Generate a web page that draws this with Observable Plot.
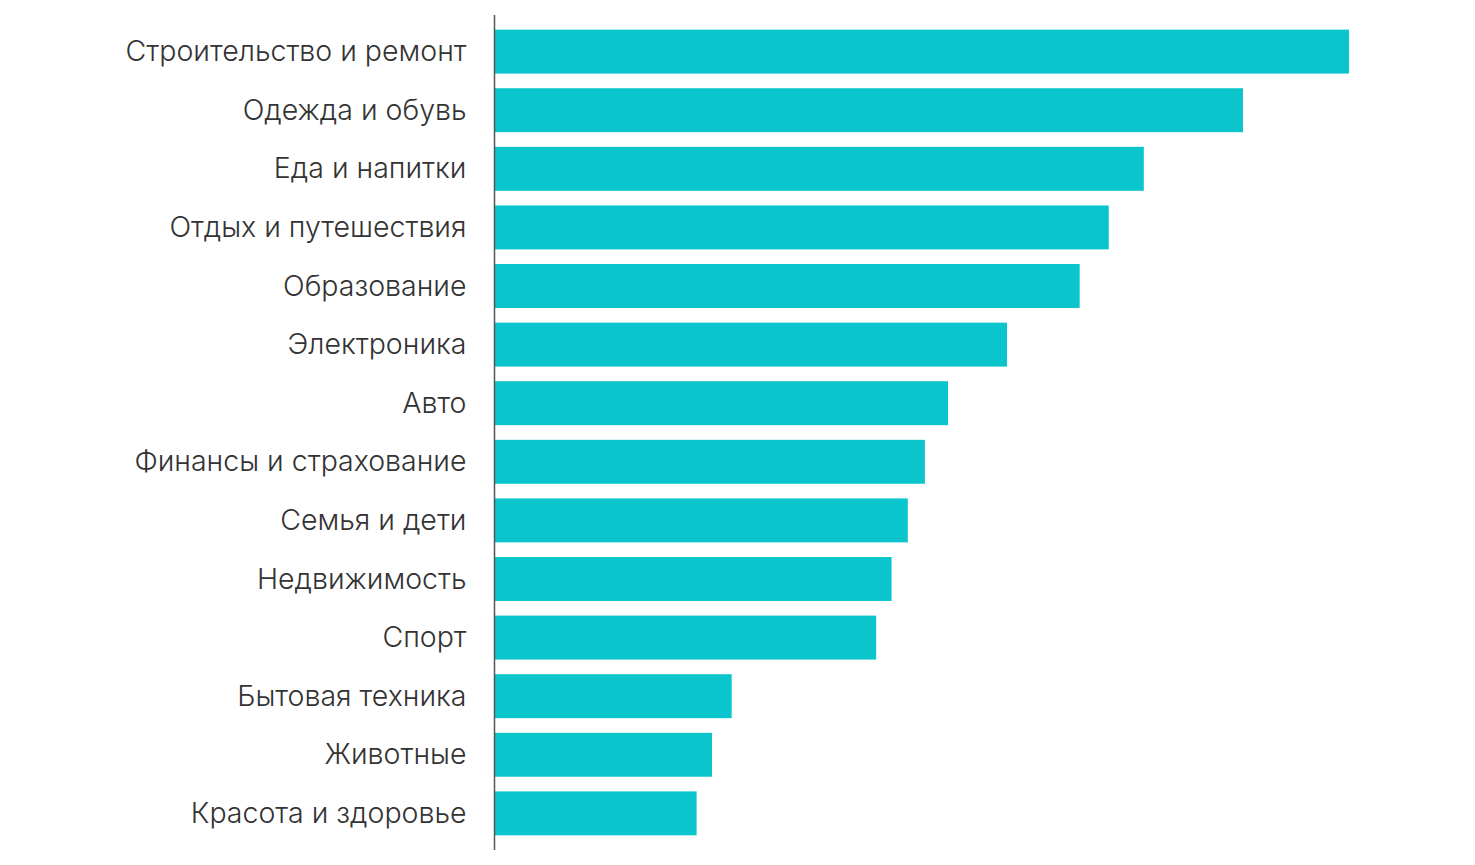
<!DOCTYPE html>
<html>
<head>
<meta charset="utf-8">
<script src="https://cdn.jsdelivr.net/npm/d3@7"></script>
<script src="https://cdn.jsdelivr.net/npm/@observablehq/plot@0.6"></script>
<style>
  html, body { margin: 0; padding: 0; background: #fff; }
  #chart svg { display: block; }
</style>
</head>
<body>
<div id="chart"></div>
<script>
const categories = [
  "Строительство и ремонт",
  "Одежда и обувь",
  "Еда и напитки",
  "Отдых и путешествия",
  "Образование",
  "Электроника",
  "Авто",
  "Финансы и страхование",
  "Семья и дети",
  "Недвижимость",
  "Спорт",
  "Бытовая техника",
  "Животные",
  "Красота и здоровье"
];
const values = [100, 87.6, 76.0, 71.9, 68.5, 60.0, 53.1, 50.4, 48.4, 46.5, 44.7, 27.8, 25.5, 23.7];

const data = categories.map((c, i) => ({category: c, value: values[i]}));

const chart = Plot.plot({
  width: 1475,
  height: 865,
  marginLeft: 494,
  marginRight: 126,
  marginTop: 15,
  marginBottom: 15,
  style: {fontFamily: "Inter, sans-serif", fontSize: "28.5px", fontWeight: 300, color: "#333"},
  x: {domain: [0, 100], axis: null},
  y: {domain: categories, paddingInner: 0.25, paddingOuter: 0.25, round: false, label: null},
  marks: [
    Plot.barX(data, {x: "value", y: "category", fill: "#0bc5cc", insetLeft: 1}),
    Plot.axisY({tickSize: 0, tickPadding: 28, label: null, fontSize: 28.5, fontWeight: 300, fill: "#333"}),
    Plot.ruleX([0], {stroke: "#555", strokeWidth: 1.5})
  ]
});
document.getElementById("chart").appendChild(chart);
</script>
</body>
</html>
